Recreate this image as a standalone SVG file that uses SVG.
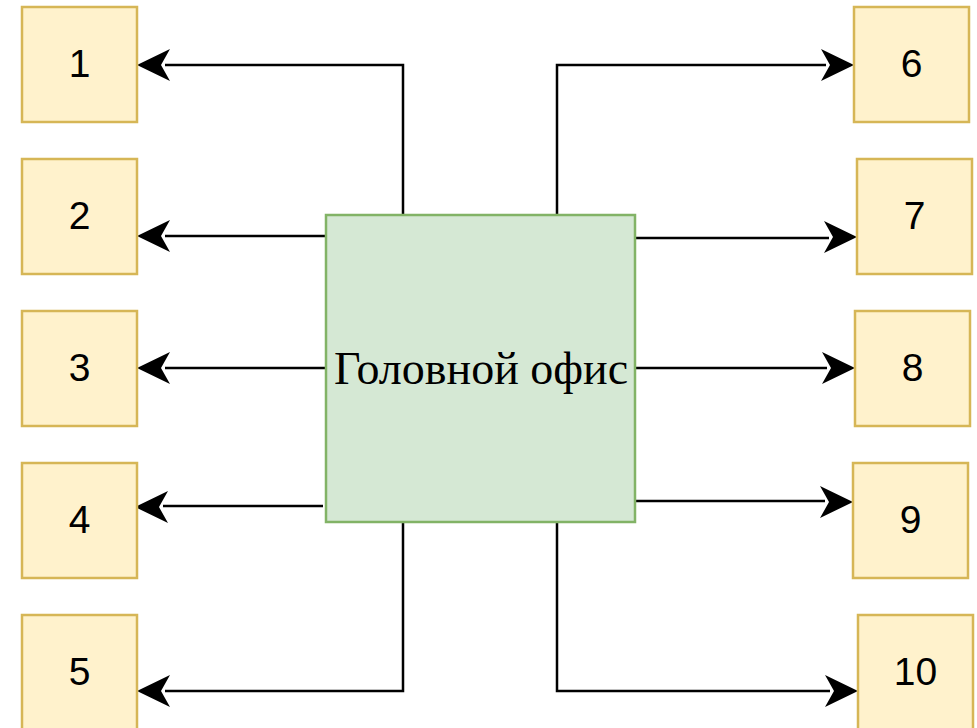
<svg xmlns="http://www.w3.org/2000/svg" width="977" height="728" viewBox="0 0 977 728">
<style>
.box{fill:#fff2cc;stroke:#d6b656;stroke-width:2.5}
.main{fill:#d5e8d4;stroke:#82b366;stroke-width:2.5}
.num{font-family:"Liberation Sans",Arial,sans-serif;font-size:39px;fill:#000;text-anchor:middle;dominant-baseline:central}
.lbl{font-family:"Liberation Serif","Times New Roman",serif;font-size:46px;fill:#000;text-anchor:middle}
.edge{fill:none;stroke:#000;stroke-width:2.5}
.ah{fill:#000;stroke:none}
</style>
<rect width="977" height="728" fill="#fff"/>
<g id="connectors">
<path class="edge" d="M403,215 V65 H165"/>
<polygon class="ah" points="137,65 170,49 161,65 170,81"/>
<path class="edge" d="M326,236 H165"/>
<polygon class="ah" points="137,236 170,220 161,236 170,252"/>
<path class="edge" d="M326,368 H165"/>
<polygon class="ah" points="137,368 170,352 161,368 170,384"/>
<path class="edge" d="M323,506 H163"/>
<polygon class="ah" points="135,507 168,491 159,507 168,523"/>
<path class="edge" d="M403,522 V691 H165"/>
<polygon class="ah" points="137,691 170,675 161,691 170,707"/>
<path class="edge" d="M557,215 V65 H826"/>
<polygon class="ah" points="854,65 821,49 830,65 821,81"/>
<path class="edge" d="M635,238 H829"/>
<polygon class="ah" points="857,237 824,221 833,237 824,253"/>
<path class="edge" d="M635,368 H827"/>
<polygon class="ah" points="855,368 822,352 831,368 822,384"/>
<path class="edge" d="M633,501 H825"/>
<polygon class="ah" points="853,502 820,486 829,502 820,518"/>
<path class="edge" d="M557,522 V691 H830"/>
<polygon class="ah" points="858,691 825,675 834,691 825,707"/>
</g>
<g id="n-main"><rect class="main" x="326" y="215" width="309" height="307"/><text class="lbl" x="481" y="384">Головной офис</text></g>
<g id="n1"><rect class="box" x="22" y="7" width="115" height="115"/><text class="num" x="79.5" y="63">1</text></g>
<g id="n2"><rect class="box" x="22" y="159" width="115" height="115"/><text class="num" x="79.5" y="215">2</text></g>
<g id="n3"><rect class="box" x="22" y="311" width="115" height="115"/><text class="num" x="79.5" y="367">3</text></g>
<g id="n4"><rect class="box" x="22" y="463" width="115" height="115"/><text class="num" x="79.5" y="519">4</text></g>
<g id="n5"><rect class="box" x="22" y="615" width="115" height="115"/><text class="num" x="79.5" y="671">5</text></g>
<g id="n6"><rect class="box" x="854" y="7" width="115" height="115"/><text class="num" x="911.5" y="63">6</text></g>
<g id="n7"><rect class="box" x="857" y="159" width="115" height="115"/><text class="num" x="914.5" y="215">7</text></g>
<g id="n8"><rect class="box" x="855" y="311" width="115" height="115"/><text class="num" x="912.5" y="367">8</text></g>
<g id="n9"><rect class="box" x="853" y="463" width="115" height="115"/><text class="num" x="910.5" y="519">9</text></g>
<g id="n10"><rect class="box" x="858" y="615" width="115" height="115"/><text class="num" x="915.5" y="671">10</text></g>
</svg>
